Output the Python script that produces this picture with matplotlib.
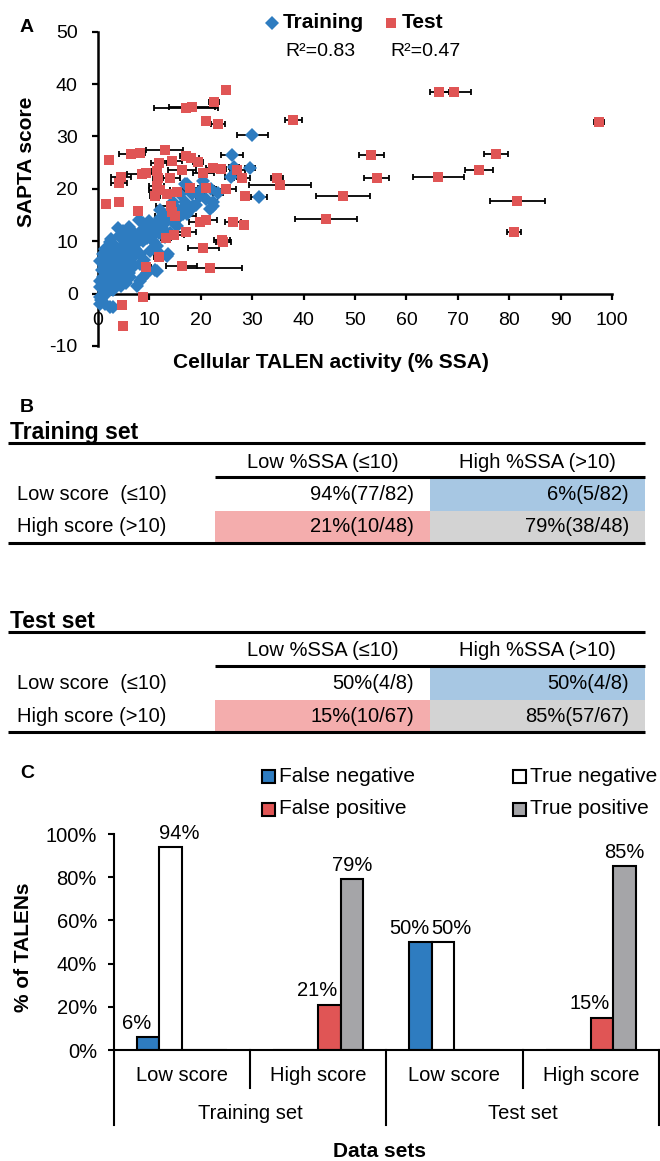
import numpy as np
import matplotlib.pyplot as plt
from matplotlib.patches import Rectangle

plt.rcParams['font.family'] = ['Liberation Sans', 'DejaVu Sans']
plt.rcParams['axes.unicode_minus'] = False

# ---------------- Panel A data (x = %SSA, y = SAPTA score, xerr = SD) ----------------
train_x = [30.0, 26.1, 26.5, 29.6, 25.9, 31.3, 16.9, 17.3, 18.2, 19.8, 23.4, 18.2, 22.4, 21.8,
           22.4, 18.5, 16.6, 18.2, 16.6, 14.3, 16.0, 17.3, 13.4, 11.4, 8.8, 6.6, 4.9, 15.3,
           10.4, 8.2, 9.5, 4.0, 2.3, 3.3, 1.0, 0.4, 1.7, 4.3, 5.6, 7.2, 8.2, 10.1, 11.4, 12.1,
           6.2, 4.9, 8.2, 2.3, 3.6, 6.2, 1.0, 4.9, 1.7, 7.5, 0.4, 3.0, 0.4, 1.4, 11.4, 13.4,
           10.8, 11.1, 8.2, 13.7, 2.3, 0.4, 0.8, 1.2, 2.0, 2.8, 3.5, 4.0, 5.0, 5.8, 6.5, 7.0,
           7.8, 8.8, 9.5, 10.5, 11.8, 12.5, 13.0, 14.0, 14.8, 15.5, 17.0, 19.0, 20.0, 21.0,
           13.0, 12.0, 6.0, 7.0, 9.0, 5.2, 3.0, 2.5, 1.5, 0.6, 1.0, 2.0, 3.8, 4.5, 5.5, 6.8,
           9.5, 8.5, 3.2, 5.0, 0.3, 1.4, 2.6, 3.8, 6.0, 8.0, 10.0, 12.0, 14.5, 16.0, 20.5, 22.0,
           2.9]
train_y = [30.2, 26.4, 24.2, 23.9, 22.2, 18.4, 21.0, 21.0, 19.6, 18.6, 19.3, 19.0, 17.4, 16.1,
           16.7, 16.7, 16.4, 16.4, 15.2, 14.8, 14.8, 15.2, 13.9, 13.6, 13.4, 12.0, 12.0, 12.9,
           12.3, 11.7, 10.7, 11.0, 9.8, 9.1, 7.5, 6.3, 6.0, 8.2, 7.5, 8.6, 7.5, 8.2, 9.1, 7.5,
           6.3, 5.0, 5.6, 4.4, 3.7, 3.1, 3.1, 2.5, 1.8, 1.5, 1.2, 0.6, -0.7, -2.0, 4.4, 7.2,
           9.8, 4.5, 2.5, 7.5, -2.6, -2.0, 4.5, 5.2, 7.0, 6.5, 5.5, 6.8, 9.5, 10.5, 9.0, 11.0,
           9.8, 10.0, 12.5, 11.0, 11.5, 12.5, 10.8, 11.5, 13.5, 16.0, 17.5, 17.0, 19.8, 18.0,
           15.0, 14.5, 4.0, 5.2, 6.5, 3.5, 2.0, 1.0, 0.0, -1.2, -0.3, 3.5, 4.8, 1.5, 2.0, 7.0,
           4.0, 3.0, 8.0, 6.0, 2.5, 8.5, 10.5, 12.5, 12.8, 14.0, 13.8, 16.0, 17.5, 19.0, 21.5, 20.0,
           -2.6]
train_err = [3.0, 2.2, 1.0, 1.0, 1.2, 1.5, 0.5, 0, 0, 0.8, 1.0, 0, 0.8, 0.5,
             0, 0, 0, 0, 0, 0, 0, 0, 0, 0, 0, 0, 0, 0,
             0, 0, 0, 0, 0, 0, 0, 0, 0, 0, 0, 0, 0, 0, 0, 0,
             0, 0, 0, 0, 0, 0, 0, 0, 0, 0, 0, 0, 0, 0, 0, 0,
             0, 0, 0, 0, 0, 0, 0, 0, 0, 0, 0, 0, 0, 0, 0, 0,
             0, 0, 0, 0, 0, 0, 0, 0, 0, 0, 0, 0, 0, 0,
             0, 0, 0, 0, 0, 0, 0, 0, 0, 0, 0, 0, 0, 0, 0, 0,
             0, 0, 0, 0, 0, 0, 0, 0, 0, 0, 0, 0, 0, 0, 0, 0,
             0]

test_x = [66.4, 69.3, 97.5, 77.4, 74.1, 66.2, 54.2, 53.2, 81.6, 80.9, 47.7, 44.4, 38.0, 34.8,
          35.4, 28.6, 28.0, 27.1, 24.9, 22.6, 17.1, 18.3, 21.1, 23.3, 13.0, 6.4, 8.2, 2.1,
          11.9, 17.1, 18.1, 14.3, 19.5, 16.3, 11.4, 22.3, 23.9, 20.5, 4.5, 8.6, 9.3, 11.7,
          14.0, 11.4, 11.1, 12.0, 13.4, 15.3, 17.9, 21.1, 24.9, 1.6, 4.0, 7.7, 14.2, 14.3,
          15.0, 19.8, 21.1, 26.3, 28.5, 17.1, 14.8, 13.2, 24.1, 24.4, 20.5, 11.9, 16.3, 21.8,
          9.3, 8.7, 4.7, 4.9, 4.1]
test_y = [38.5, 38.4, 32.8, 26.7, 23.6, 22.2, 22.1, 26.4, 17.7, 11.8, 18.6, 14.3, 33.2, 22.1,
          20.7, 18.6, 22.0, 23.6, 38.9, 36.5, 35.4, 35.7, 32.9, 32.4, 27.5, 26.7, 26.8, 25.6,
          25.0, 26.2, 25.8, 25.3, 25.2, 23.6, 23.5, 24.0, 23.7, 23.1, 22.2, 22.8, 23.1, 22.0,
          22.0, 20.5, 18.6, 19.7, 19.0, 19.4, 20.2, 20.2, 19.9, 17.2, 17.4, 15.8, 16.7, 15.5,
          14.8, 13.7, 14.0, 13.7, 13.1, 11.8, 11.2, 10.6, 10.3, 9.9, 8.7, 7.0, 5.3, 4.9,
          5.0, -0.6, -2.1, -6.1, 21.2]
test_err = [1.8, 3.3, 1.0, 2.3, 2.7, 5.0, 2.5, 2.4, 5.3, 1.3, 5.3, 6.0, 1.6, 1.2,
            6.1, 0, 1.5, 1.5, 0.5, 1.0, 6.3, 4.5, 0.5, 1.4, 3.6, 2.4, 1.0, 0,
            1.5, 1.2, 1.5, 2.0, 1.0, 2.7, 0.8, 1.2, 1.0, 2.0, 2.0, 3.0, 1.5, 1.0,
            2.0, 1.5, 1.0, 2.0, 3.0, 1.5, 1.5, 1.5, 2.0, 0, 0, 0.5, 3.0, 2.0,
            4.0, 2.0, 2.0, 1.5, 0.5, 2.0, 2.0, 1.0, 1.5, 1.5, 3.0, 1.0, 3.0, 6.3,
            1.0, 0.5, 0, 0, 1.5]

r2_train = 0.83
r2_test = 0.47

# ---------------- Panel B data ----------------
col_headers = ['Low %SSA (\u226410)', 'High %SSA (>10)']
row_headers = ['Low score  (\u226410)', 'High score (>10)']
train_cells = [['94%(77/82)', '6%(5/82)'], ['21%(10/48)', '79%(38/48)']]
test_cells = [['50%(4/8)', '50%(4/8)'], ['15%(10/67)', '85%(57/67)']]
cell_colors = [['white', '#a7c7e3'], ['#f4adad', '#d3d3d3']]

# ---------------- Panel C data ----------------
categories = ['Low score', 'High score', 'Low score', 'High score']
set_names = ['Training set', 'Test set']
false_neg = [6, 0, 50, 0]
true_neg = [94, 0, 50, 0]
false_pos = [0, 21, 0, 15]
true_pos = [0, 79, 0, 85]

blue = '#2e7cc0'
red = '#e05555'

W, H = 660, 1161
fig = plt.figure(figsize=(W / 100, H / 100), dpi=100)


def fx(px):
    return px / W


def fy(py):
    return 1 - py / H


# ---------------- Panel A: scatter ----------------
ax = fig.add_axes([fx(98), fy(346), fx(612) - fx(98), fy(31.7) - fy(346)])
ax.patch.set_visible(False)
ax.set_xlim(0, 100)
ax.set_ylim(-10, 50)
for s in ['top', 'right']:
    ax.spines[s].set_visible(False)
ax.spines['bottom'].set_position(('data', 0))
ax.spines['left'].set_linewidth(1.8)
ax.spines['bottom'].set_linewidth(1.8)
ax.set_xticks(range(0, 101, 10))
ax.set_yticks(range(-10, 51, 10))
ax.tick_params(axis='both', direction='out', length=4.5, width=1.6, labelsize=14)
ax.tick_params(axis='x', pad=9)
ax.tick_params(axis='y', pad=10)

tx, ty, te = np.array(train_x), np.array(train_y), np.array(train_err)
sx, sy, se = np.array(test_x), np.array(test_y), np.array(test_err)
m = te > 0
ax.errorbar(tx[m], ty[m], xerr=te[m], fmt='none', ecolor='black', elinewidth=1.3,
            capsize=2.5, capthick=1.3, zorder=2, clip_on=False)
m = se > 0
ax.errorbar(sx[m], sy[m], xerr=se[m], fmt='none', ecolor='black', elinewidth=1.3,
            capsize=2.5, capthick=1.3, zorder=2, clip_on=False)
ax.plot(tx, ty, 'D', color=blue, ms=6.8, mew=0, zorder=3, clip_on=False)
ax.plot(sx, sy, 's', color=red, ms=7, mew=0, zorder=4, clip_on=False)

fig.text(fx(331), fy(363), 'Cellular TALEN activity (% SSA)', fontsize=15, fontweight='bold',
         ha='center', va='center')
fig.text(fx(27), fy(162), 'SAPTA score', fontsize=15, fontweight='bold', rotation=90,
         ha='center', va='center')

# ---------------- overlay in pixel coordinates ----------------
ov = fig.add_axes([0, 0, 1, 1], zorder=10)
ov.set_xlim(0, W)
ov.set_ylim(H, 0)
ov.axis('off')

for letter, py in [('A', 28), ('B', 408), ('C', 773)]:
    ov.text(20, py, letter, fontsize=14, fontweight='bold', ha='left', va='center')

# legend of panel A
ov.plot([272], [23], 'D', color=blue, ms=6.8, mew=0)
ov.text(283, 23, 'Training', fontsize=15, fontweight='bold', ha='left', va='center')
ov.plot([391], [23], 's', color=red, ms=7, mew=0)
ov.text(402, 23, 'Test', fontsize=15, fontweight='bold', ha='left', va='center')
ov.text(285, 51, f'R\u00b2={r2_train}', fontsize=14, ha='left', va='center')
ov.text(390, 51, f'R\u00b2={r2_test}', fontsize=14, ha='left', va='center')


# ---------------- Panel B: tables ----------------
def draw_table(top, title, cells):
    ov.text(10, top, title, fontsize=16.5, fontweight='bold', ha='left', va='center')
    ov.plot([8, 645], [top + 11, top + 11], color='black', lw=2.2, solid_capstyle='butt')
    col_edges = [215, 430, 645]
    for j, hd in enumerate(col_headers):
        ov.text((col_edges[j] + col_edges[j + 1]) / 2, top + 30, hd, fontsize=14.5,
                ha='center', va='center')
    ov.plot([215, 645], [top + 45, top + 45], color='black', lw=2.2, solid_capstyle='butt')
    row_top = [top + 46, top + 78.5]
    for i, rh in enumerate(row_headers):
        yc = row_top[i] + 16.5
        ov.text(17, yc, rh, fontsize=14.5, ha='left', va='center')
        for j in range(2):
            ov.add_patch(Rectangle((col_edges[j], row_top[i]), col_edges[j + 1] - col_edges[j],
                                   32.5, facecolor=cell_colors[i][j], edgecolor='none', zorder=0))
            ov.text(col_edges[j + 1] - 16, yc, cells[i][j], fontsize=14.5, ha='right', va='center')
    ov.plot([8, 645], [top + 111, top + 111], color='black', lw=2.2, solid_capstyle='butt')


draw_table(432, 'Training set', train_cells)
draw_table(621, 'Test set', test_cells)

# ---------------- Panel C: bars ----------------
axc = fig.add_axes([fx(113.6), fy(1050), fx(659) - fx(113.6), fy(834) - fy(1050)])
axc.patch.set_visible(False)
xpos = np.arange(len(categories))
w = 0.166
series = [(false_neg, blue, 'False negative', -8),
          (true_neg, 'white', 'True negative', 6),
          (false_pos, red, 'False positive', -9),
          (true_pos, '#a5a5a8', 'True positive', 0)]
for i, (vals, col, lab, dx) in enumerate(series):
    xb = xpos + (i - 1.5) * w
    axc.bar(xb, vals, w, color=col, edgecolor='black', linewidth=1.5, zorder=2)
    for xx, v in zip(xb, vals):
        if v > 0:
            axc.annotate(f'{v}%', (xx, v), xytext=(dx, 3), textcoords='offset points',
                         ha='center', va='bottom', fontsize=14.5)

axc.set_xlim(-0.5, 3.5)
axc.set_ylim(0, 100)
for s in ['top', 'right']:
    axc.spines[s].set_visible(False)
axc.spines['left'].set_linewidth(1.5)
axc.spines['bottom'].set_linewidth(1.5)
yt = list(range(0, 101, 20))
axc.set_yticks(yt)
axc.set_yticklabels([f'{t}%' for t in yt])
axc.tick_params(axis='y', direction='out', length=4, width=1.5, labelsize=14.5, pad=8)
axc.set_xticks([])

tr = axc.get_xaxis_transform()
for xx, lab in zip(xpos, categories):
    axc.text(xx, -0.116, lab, transform=tr, ha='center', va='center', fontsize=14.5)
for k, name in enumerate(set_names):
    axc.text(2 * k + 0.5, -0.292, name, transform=tr, ha='center', va='center', fontsize=14.5)
for xx in [0.5, 2.5]:
    axc.plot([xx, xx], [0, -0.176], transform=tr, color='black', lw=1.5, clip_on=False)
for xx in [-0.5, 1.5, 3.5]:
    axc.plot([xx, xx], [0, -0.347], transform=tr, color='black', lw=1.5, clip_on=False)
axc.text(1.45, -0.472, 'Data sets', transform=tr, ha='center', va='center', fontsize=15,
         fontweight='bold')
fig.text(fx(24), fy(947), '% of TALENs', fontsize=15, fontweight='bold', rotation=90,
         ha='center', va='center')

# legend of panel C
leg_pos = [(262, 776), (513, 776), (262, 809), (513, 809)]
for (vals, col, lab, dx), (lx, ly) in zip(series, leg_pos):
    ov.add_patch(Rectangle((lx, ly - 6.5), 13, 13, facecolor=col, edgecolor='black', lw=1.5))
    ov.text(lx + 17, ly, lab, fontsize=15, ha='left', va='center')

fig.savefig('out.png', dpi=100)
